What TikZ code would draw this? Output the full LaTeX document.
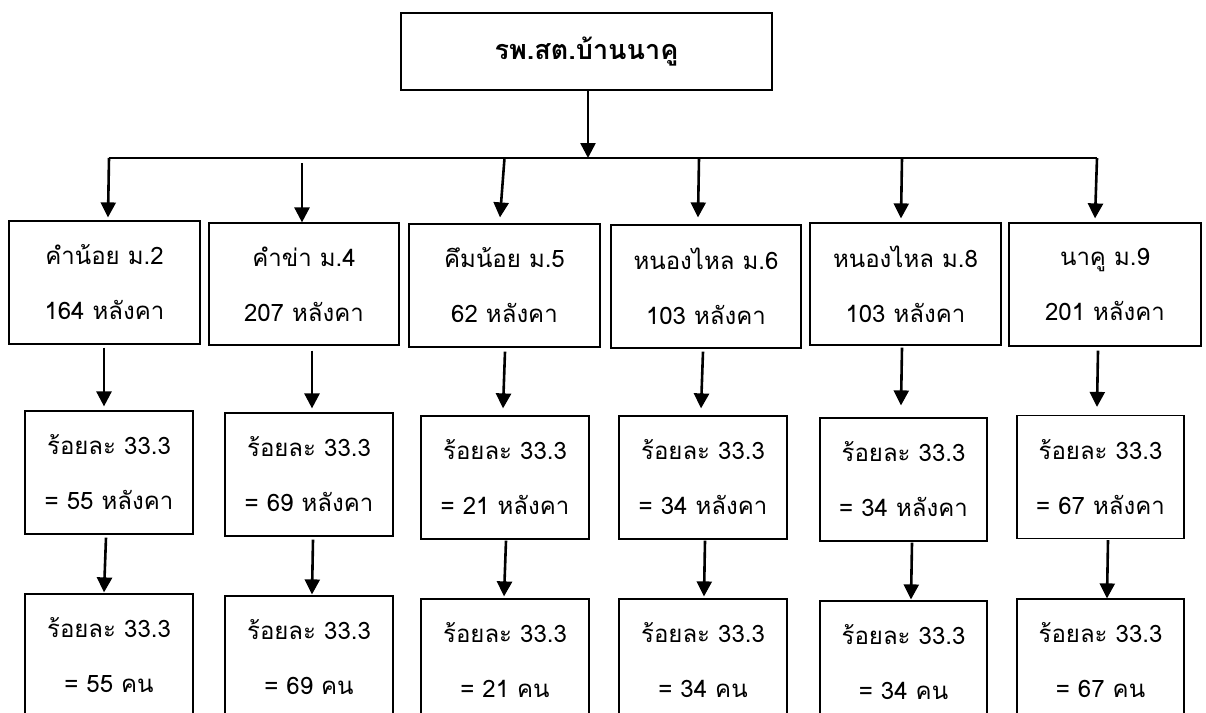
\documentclass[tikz,border=0pt]{standalone}
\usepackage{fontspec}
\newfontfamily\thaifont[Script=Thai]{Loma}
\usetikzlibrary{arrows.meta}
\tikzset{
  box/.style={draw=black, line width=1.2pt, align=center, inner sep=0pt,
    font={\thaifont\fontsize{24}{55}\selectfont}},
  lone/.style={box, minimum width=191pt, minimum height=123pt},
  lsub/.style={box, minimum width=168pt, minimum height=123pt},
  arr/.style={line width=2.6pt, -{Triangle[width=15pt,length=15pt]}},
  bar/.style={line width=2.6pt}
}
\begin{document}
\begin{tikzpicture}[x=1pt,y=-1pt]
\clip (0,0) rectangle (1206,712);
\fill[white] (0,0) rectangle (1206,712);
% top
\node[box, minimum width=371pt, minimum height=77pt, font={\thaifont\bfseries\fontsize{27}{30}\selectfont}] (top) at (586.5,51.5) {รพ.สต.บ้านนาคู};
% level 1
\node[lone] (a1) at (104.5,282.5) {คำน้อย ม.2\\164 หลังคา};
\node[lone, minimum width=190pt, minimum height=122pt] (a2) at (304,284) {คำข่า ม.4\\207 หลังคา};
\node[lone] (a3) at (504.5,285.5) {คึมน้อย ม.5\\62 หลังคา};
\node[lone, minimum width=190pt] (a4) at (706,286.5) {หนองไหล ม.6\\103 หลังคา};
\node[lone, minimum height=122pt] (a5) at (905.5,284) {หนองไหล ม.8\\103 หลังคา};
\node[lone, minimum width=192pt] (a6) at (1105,284.5) {นาคู ม.9\\201 หลังคา};
% level 2
\node[lsub] (b1) at (109,472.5) {ร้อยละ 33.3\\= 55 หลังคา};
\node[lsub] (b2) at (309,474.5) {ร้อยละ 33.3\\= 69 หลังคา};
\node[lsub] (b3) at (505,477.5) {ร้อยละ 33.3\\= 21 หลังคา};
\node[lsub] (b4) at (703,477.5) {ร้อยละ 33.3\\= 34 หลังคา};
\node[lsub, minimum width=167pt] (b5) at (903.5,479.5) {ร้อยละ 33.3\\= 34 หลังคา};
\node[lsub, minimum width=167pt] (b6) at (1100.5,477) {ร้อยละ 33.3\\= 67 หลังคา};
% level 3
\node[lsub] (c1) at (109,655.5) {ร้อยละ 33.3\\= 55 คน};
\node[lsub] (c2) at (309,657.5) {ร้อยละ 33.3\\= 69 คน};
\node[lsub] (c3) at (505,660.5) {ร้อยละ 33.3\\= 21 คน};
\node[lsub] (c4) at (703,660.5) {ร้อยละ 33.3\\= 34 คน};
\node[lsub, minimum width=167pt] (c5) at (903.5,662.5) {ร้อยละ 33.3\\= 34 คน};
\node[lsub, minimum width=167pt] (c6) at (1100.5,660.5) {ร้อยละ 33.3\\= 67 คน};
% branch bar
\coordinate (hl) at (109,158);
\coordinate (hr) at (1097,158);
\coordinate (hm) at (588,158);
\draw[bar] (hl) -- (hr);
\draw[arr] ([xshift=1.5pt]top.south) -- (hm);
% drops to level 1
\draw[arr] (hl) -- ([shift={(3.5,-3)}]a1.north);
\draw[arr] ([shift={(-2,-59)}]a2.north) -- ([shift={(-2,0)}]a2.north);
\draw[arr] (a3.north |- hm) -- ([shift={(-4.5,-6)}]a3.north);
\draw[arr] ([shift={(-7,0)}]a4.north |- hm) -- ([shift={(-8,-7)}]a4.north);
\draw[arr] ([shift={(-3.5,0)}]a5.north |- hm) -- ([shift={(-4.5,-4)}]a5.north);
\draw[arr] (hr) -- ([shift={(-10,-4)}]a6.north);
% level 1 -> level 2
\draw[arr] ([shift={(-0.5,3)}]a1.south) -- ([shift={(-5,-4)}]b1.north);
\draw[arr] ([shift={(8,5)}]a2.south) -- ([shift={(3,-4)}]b2.north);
\draw[arr] ([shift={(0.5,4)}]a3.south) -- ([shift={(-2,-7)}]b3.north);
\draw[arr] ([shift={(-3,3)}]a4.south) -- ([shift={(-2,-7)}]b4.north);
\draw[arr] ([shift={(-3.5,2)}]a5.south) -- ([shift={(-2.5,-12)}]b5.north);
\draw[arr] ([shift={(-7,4)}]a6.south) -- ([shift={(-3.5,-8)}]b6.north);
% level 2 -> level 3
\draw[arr] ([shift={(-3,3)}]b1.south) -- ([shift={(-5,-1)}]c1.north);
\draw[arr] ([shift={(4,3)}]b2.south) -- ([shift={(3,-1)}]c2.north);
\draw[arr] ([shift={(1,1)}]b3.south) -- ([shift={(-1,-2)}]c3.north);
\draw[arr] ([shift={(2,1)}]b4.south) -- ([shift={(1,-2)}]c4.north);
\draw[arr] ([shift={(8.5,1)}]b5.south) -- ([shift={(7.5,-1)}]c5.north);
\draw[arr] ([shift={(7.5,1)}]b6.south) -- ([shift={(6.5,0)}]c6.north);
\end{tikzpicture}
\end{document}
